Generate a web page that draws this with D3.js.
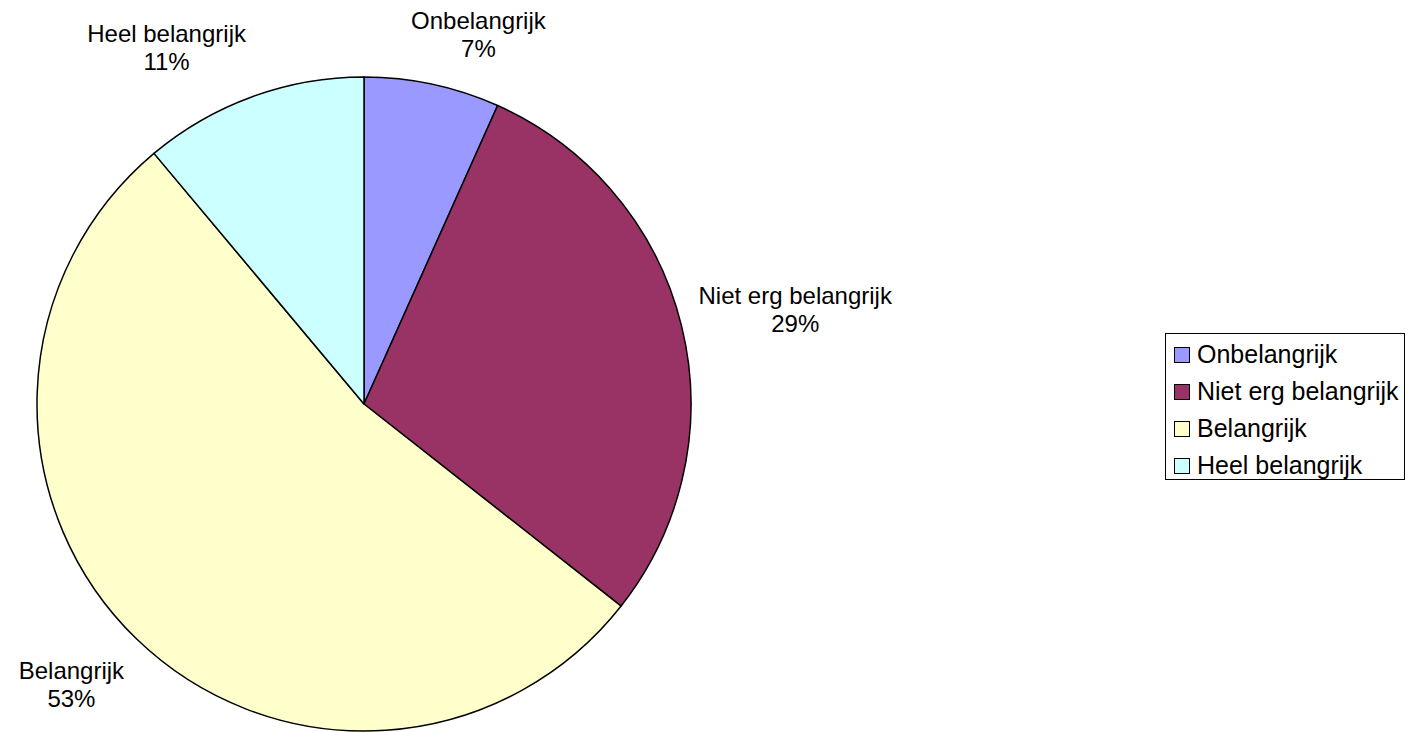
<!DOCTYPE html>
<html>
<head>
<meta charset="utf-8">
<script src="https://cdn.jsdelivr.net/npm/d3@7"></script>
<style>
  body { margin: 0; background: #fff; }
  svg { display: block; font-family: "Liberation Sans", Arial, sans-serif; }
</style>
</head>
<body>
<svg width="1410" height="732"></svg>
<script>
// Chart data
const categories = ["Onbelangrijk", "Niet erg belangrijk", "Belangrijk", "Heel belangrijk"];
const shares = [6.7, 28.9, 53.3, 11.1];
const colours = ["#9999ff", "#993366", "#ffffcc", "#ccffff"];

const svg = d3.select("svg");

// Pie geometry
const cx = 364, cy = 404, r = 327;
const fontSize = 24, lineGap = 28;

const pie = d3.pie().sort(null).value((d) => d.v);
const arc = d3.arc().innerRadius(0).outerRadius(r);

const rows = categories.map((c, i) => ({ name: c, v: shares[i], col: colours[i] }));
const slices = pie(rows);

const g = svg.append("g").attr("transform", `translate(${cx},${cy})`);

g.selectAll("path")
    .data(slices)
    .join("path")
    .attr("d", arc)
    .attr("fill", (d) => d.data.col)
    .attr("stroke", "#000")
    .attr("stroke-width", 1.5)
    .attr("stroke-linejoin", "round");

// Labels placed outside the slice, pushed away from the pie by their own size
const clamp = (v) => Math.max(-1, Math.min(1, v));
const labelR = r + 17;

slices.forEach((s) => {
    const a = (s.startAngle + s.endAngle) / 2;
    const px = Math.sin(a) * labelR;
    const py = -Math.cos(a) * labelR;

    const t = g.append("text")
        .attr("text-anchor", "middle")
        .attr("font-size", fontSize)
        .attr("fill", "#000");
    t.append("tspan").attr("x", 0).attr("y", 0).text(s.data.name);
    t.append("tspan").attr("x", 0).attr("y", lineGap).text(Math.round(s.data.v) + "%");

    const w = t.node().getBBox().width;
    const bx = px + (w / 2) * clamp(3 * Math.sin(a));
    const by = py - 33 * clamp(1.5 * Math.cos(a));
    // by is the visual middle of the two-line block
    t.attr("transform", `translate(${bx},${by - 5.5})`);
});

// Legend
const lx = 1165, ly = 333, rowH = 37, sq = 15;
const legend = svg.append("g");
const frame = legend.append("rect")
    .attr("fill", "#fff")
    .attr("stroke", "#000")
    .attr("stroke-width", 1);

const items = legend.selectAll("g.item")
    .data(rows)
    .join("g")
    .attr("class", "item")
    .attr("transform", (d, i) => `translate(${lx + 9},${ly + 22 + i * rowH})`);

items.append("rect")
    .attr("x", 0.5)
    .attr("y", -sq / 2)
    .attr("width", sq)
    .attr("height", sq)
    .attr("fill", (d) => d.col)
    .attr("stroke", "#000")
    .attr("stroke-width", 1);

items.append("text")
    .attr("x", 23)
    .attr("y", 8)
    .attr("font-size", 25)
    .attr("fill", "#000")
    .text((d) => d.name);

const bb = legend.node().getBBox();
frame.attr("x", lx + 0.5)
    .attr("y", ly + 0.5)
    .attr("width", bb.x + bb.width - lx + 5)
    .attr("height", rows.length * rowH - 2);
</script>
</body>
</html>
